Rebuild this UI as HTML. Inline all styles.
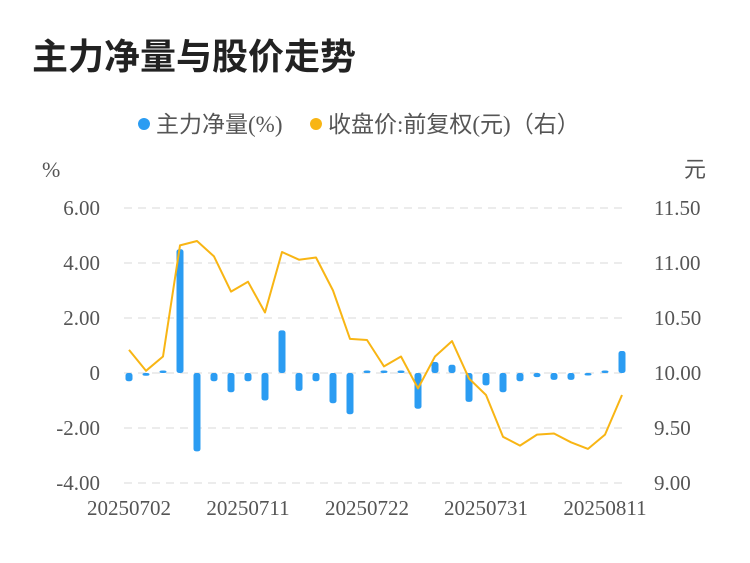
<!DOCTYPE html>
<html><head><meta charset="utf-8"><style>
body{margin:0;background:#fff;}
svg text{font-family:"Liberation Serif","Noto Sans CJK SC",serif;}
</style></head><body>
<svg width="750" height="558" viewBox="0 0 750 558" xmlns="http://www.w3.org/2000/svg">
<text x="32" y="69" font-size="36" font-weight="bold" fill="#222" style="font-family:'Liberation Sans','Noto Sans CJK SC',sans-serif">主力净量与股价走势</text>
<g>
<g><circle cx="144" cy="124" r="6" fill="#2b9cf2"/><text x="156" y="132" font-size="23" fill="#555">主力净量(%)</text></g>
<g><circle cx="316" cy="124" r="6" fill="#f8b514"/><text x="328" y="132" font-size="23" fill="#555">收盘价:前复权(元)（右）</text></g>
</g>
<text x="42" y="177" font-size="22" fill="#555">%</text>
<text x="684" y="177" font-size="22" fill="#555">元</text>
<g id="grid"></g>
<g id="ticks"></g>
<g id="bars"></g>
<g id="line"></g>
</svg>
<script>
const dates=["20250702","20250703","20250704","20250707","20250708","20250709","20250710","20250711","20250714","20250715","20250716","20250717","20250718","20250721","20250722","20250723","20250724","20250725","20250728","20250729","20250730","20250731","20250801","20250804","20250805","20250806","20250807","20250808","20250811","20250812"];
const netFlow=[-0.3,-0.1,0.07,4.5,-2.85,-0.3,-0.7,-0.3,-1.0,1.55,-0.65,-0.3,-1.1,-1.5,0.05,0.03,0.03,-1.3,0.4,0.3,-1.05,-0.45,-0.7,-0.3,-0.15,-0.25,-0.25,-0.02,0.02,0.8];
const price=[10.21,10.02,10.15,11.16,11.2,11.06,10.74,10.83,10.55,11.1,11.03,11.05,10.75,10.31,10.3,10.06,10.15,9.86,10.15,10.29,9.95,9.8,9.42,9.34,9.44,9.45,9.37,9.31,9.44,9.8];
const leftTicks=["6.00","4.00","2.00","0","-2.00","-4.00"];
const rightTicks=["11.50","11.00","10.50","10.00","9.50","9.00"];
const xLabelIdx=[0,7,14,21,28];
const NS="http://www.w3.org/2000/svg";
const x0=120.5,band=17,yTop=208,yBot=483;
const xs=i=>x0+band*(i+0.5);
const yL=v=>yTop+(6-v)/10*(yBot-yTop);
const yR=v=>yTop+(11.5-v)/2.5*(yBot-yTop);
function mk(t,a,p){const e=document.createElementNS(NS,t);for(const k in a)e.setAttribute(k,a[k]);p.appendChild(e);return e;}
const grid=document.getElementById('grid'),ticks=document.getElementById('ticks');
leftTicks.forEach((t,i)=>{const y=yTop+i*(yBot-yTop)/5;
 const g=mk('line',{x1:124,x2:628,y1:y,y2:y,stroke:'#e6e6e6','stroke-width':1.5,'stroke-dasharray':'8,6'},grid);
 
 
 const a=mk('text',{x:100,y:y+7,'font-size':21,fill:'#555','text-anchor':'end'},ticks);a.textContent=t;
 
 
 const b=mk('text',{x:654,y:y+7,'font-size':21,fill:'#555'},ticks);b.textContent=rightTicks[i];
 
 
});
xLabelIdx.forEach(i=>{const t=mk('text',{x:xs(i),y:515,'font-size':21,fill:'#555','text-anchor':'middle'},ticks);t.textContent=dates[i];
 
 });
const bars=document.getElementById('bars');
netFlow.forEach((v,i)=>{const y0=yL(0),y1=yL(v);const h=Math.max(Math.abs(y1-y0),2.5);
 const r=mk('rect',{x:xs(i)-3.5,y:v>=0?y0-h:y0,width:7,height:h,rx:2.5,fill:'#2b9cf2'},bars);
 
 });
const lg=document.getElementById('line');
const p=mk('polyline',{points:price.map((v,i)=>xs(i)+','+yR(v)).join(' '),fill:'none',stroke:'#f8b514','stroke-width':2,'stroke-linejoin':'round'},lg);


</script>
</body></html>
